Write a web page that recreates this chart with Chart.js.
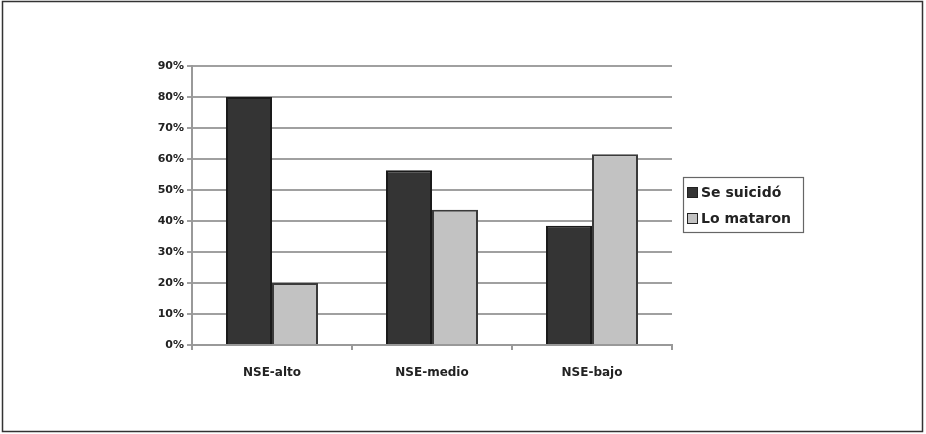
<!DOCTYPE html>
<html>
<head>
<meta charset="utf-8">
<script src="https://cdn.jsdelivr.net/npm/chart.js@4"></script>
<style>
  html, body { margin: 0; padding: 0; background: #fff; }
  #wrap { position: relative; width: 926px; height: 434px; }
</style>
</head>
<body>
<div id="wrap"><canvas id="chart" width="926" height="434"></canvas></div>
<script>
// data
const categories = ['NSE-alto', 'NSE-medio', 'NSE-bajo'];
const seSuicido = [80, 56.4, 38.5];
const loMataron = [20, 43.6, 61.5];
const seriesNames = ['Se suicidó', 'Lo mataron'];

const FONT = '"DejaVu Sans", Verdana, sans-serif';

// outer frame and legend box drawn on the canvas
const framePlugin = {
    id: 'frame',
    beforeDraw(chart) {
        const ctx = chart.ctx;
        ctx.save();
        ctx.fillStyle = '#fff';
        ctx.fillRect(0, 0, chart.width, chart.height);
        ctx.strokeStyle = '#333';
        ctx.lineWidth = 1.5;
        ctx.strokeRect(2.5, 1.5, 920, 430);
        ctx.restore();
    },
    afterDraw(chart) {
        const ctx = chart.ctx;
        ctx.save();
        ctx.strokeStyle = '#666';
        ctx.lineWidth = 1.2;
        ctx.strokeRect(683.5, 177.5, 120, 55);
        ctx.font = 'bold 14px ' + FONT;
        ctx.textBaseline = 'middle';
        chart.data.datasets.forEach((ds, i) => {
            const y = 192 + i * 26;
            ctx.fillStyle = ds.backgroundColor;
            ctx.fillRect(687, y - 4.5, 10, 10);
            ctx.strokeStyle = '#222';
            ctx.lineWidth = 1;
            ctx.strokeRect(687.5, y - 4.5, 10, 10);
            ctx.fillStyle = '#222';
            ctx.fillText(ds.label, 701, y + 1);
        });
        ctx.restore();
    }
};

new Chart(document.getElementById('chart'), {
    type: 'bar',
    data: {
        labels: categories,
        datasets: [{
            label: seriesNames[0],
            data: seSuicido,
            backgroundColor: '#343434',
            borderColor: '#1a1a1a',
            borderWidth: 2
        }, {
            label: seriesNames[1],
            data: loMataron,
            backgroundColor: '#c2c2c2',
            borderColor: '#3a3a3a',
            borderWidth: 2
        }]
    },
    options: {
        responsive: false,
        animation: false,
        devicePixelRatio: 1,
        layout: { padding: { top: 66, right: 254, left: 0, bottom: 0 } },
        datasets: { bar: { categoryPercentage: 0.575, barPercentage: 1 } },
        plugins: { legend: { display: false }, tooltip: { enabled: false } },
        scales: {
            x: {
                afterFit: s => { s.height = 89; },
                grid: { offset: true, drawOnChartArea: false, drawTicks: true, tickLength: 5, color: '#999', lineWidth: 2 },
                border: { display: true, color: '#999', width: 2 },
                ticks: { color: '#222', font: { family: FONT, size: 12, weight: 'bold' }, padding: 16 }
            },
            y: {
                min: 0,
                max: 90,
                afterFit: s => { s.width = 192; },
                grid: { color: '#a0a0a0', lineWidth: 2, tickLength: 5 },
                border: { display: true, color: '#999', width: 2 },
                ticks: {
                    stepSize: 10,
                    color: '#222',
                    font: { family: FONT, size: 11, weight: 'bold' },
                    padding: 3,
                    callback: v => v + '%'
                }
            }
        }
    },
    plugins: [framePlugin]
});
</script>
</body>
</html>
